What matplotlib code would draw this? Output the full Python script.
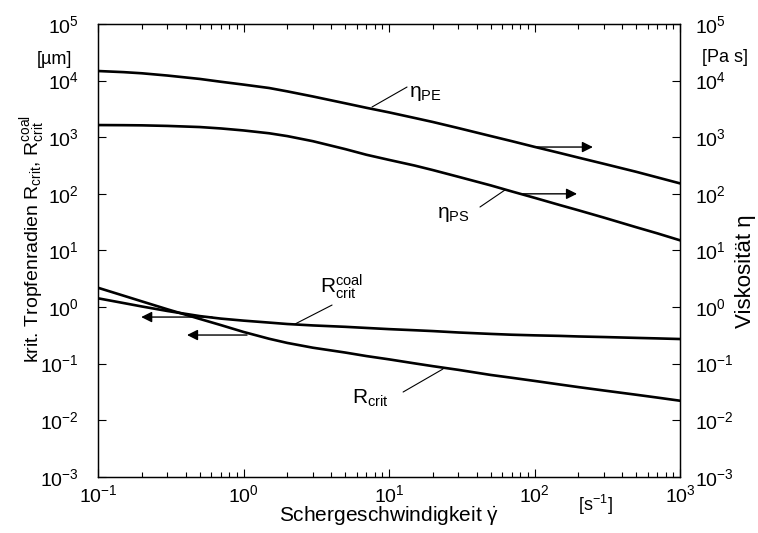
import numpy as np
import matplotlib
matplotlib.use("Agg")
import matplotlib.pyplot as plt

plt.rcParams["font.family"] = ["Liberation Sans", "DejaVu Sans"]
plt.rcParams["mathtext.fontset"] = "custom"
plt.rcParams["mathtext.rm"] = "Liberation Sans"
plt.rcParams["mathtext.it"] = "Liberation Sans"
plt.rcParams["mathtext.bf"] = "Liberation Sans:bold"
plt.rcParams["axes.unicode_minus"] = False

# shear rate [1/s]
shear = [0.1, 0.15, 0.2, 0.3, 0.5, 0.7, 1, 1.5, 2, 3, 5, 7, 10,
         15, 20, 30, 50, 70, 100, 150, 200, 300, 500, 700, 1000]

# viscosities [Pa s]
eta_pe = [14790, 14130, 13490, 12300, 10720, 9550, 8510, 7410, 6460, 5250, 3980, 3310, 2750,
          2190, 1860, 1450, 1050, 851, 676, 525, 437, 339, 245, 195, 153]
eta_ps = [1641, 1633, 1622, 1585, 1514, 1429, 1318, 1175, 1047, 851, 617, 490, 398,
          316, 263, 200, 141, 110, 85.1, 63.1, 51.3, 38.0, 25.7, 20.0, 15.1]

# critical drop radii [um]
r_crit = [2.19, 1.585, 1.259, 0.912, 0.617, 0.479, 0.363, 0.275, 0.232, 0.191, 0.157, 0.136, 0.119,
          0.101, 0.0902, 0.0776, 0.0631, 0.0562, 0.0495, 0.0427, 0.0385, 0.0335, 0.0282, 0.0251, 0.0221]
r_coal = [1.426, 1.175, 1.023, 0.851, 0.692, 0.624, 0.575, 0.531, 0.501, 0.473, 0.447, 0.427, 0.407,
          0.389, 0.376, 0.355, 0.335, 0.324, 0.316, 0.309, 0.302, 0.295, 0.285, 0.279, 0.272]

fig = plt.figure(figsize=(7.58, 5.33), dpi=100)
ax = fig.add_axes([0.1293, 0.1054, 0.7678, 0.8495])
ax2 = ax.twinx()

for a in (ax, ax2):
    a.set_xscale("log")
    a.set_yscale("log")
    a.set_xlim(0.1, 1000)
    a.set_ylim(1e-3, 1e5)
    a.yaxis.set_major_locator(matplotlib.ticker.LogLocator(base=10, numticks=20))
    a.yaxis.set_minor_locator(matplotlib.ticker.NullLocator())
    a.yaxis.set_minor_formatter(matplotlib.ticker.NullFormatter())
    a.xaxis.set_minor_formatter(matplotlib.ticker.NullFormatter())
ax2.tick_params(axis="x", which="both", bottom=False, top=False, labelbottom=False, labeltop=False)

lw = 1.9
ax.plot(shear, r_crit, color="black", lw=lw)
ax.plot(shear, r_coal, color="black", lw=lw)
ax2.plot(shear, eta_pe, color="black", lw=lw)
ax2.plot(shear, eta_ps, color="black", lw=lw)

ax.tick_params(which="both", direction="in", top=True, right=False, labelsize=14, width=0.8)
ax.tick_params(axis="y", which="major", length=6, pad=14)
ax.tick_params(axis="x", which="major", length=6, pad=5)
ax.tick_params(axis="x", which="minor", length=3.5)
ax2.tick_params(axis="y", which="major", direction="in", length=6, pad=11, labelsize=14, width=0.8)
for a in (ax, ax2):
    for s in a.spines.values():
        s.set_linewidth(0.9)

ax.set_xlabel(r"Schergeschwindigkeit $\dot{\gamma}$", fontsize=15, labelpad=-1)
ax.set_ylabel(r"krit. Tropfenradien R$_{\mathrm{crit}}$, R$_{\mathrm{crit}}^{\mathrm{coal}}$", fontsize=14)
ax.yaxis.set_label_coords(-0.087, 0.525)
ax2.set_ylabel(u"Viskosität η", fontsize=16)
ax2.yaxis.set_label_coords(1.094, 0.454)

ax.text(-0.0756, 0.9227, u"[µm]", transform=ax.transAxes, fontsize=13, ha="center", va="center")
ax.text(1.077, 0.927, "[Pa s]", transform=ax.transAxes, fontsize=13, ha="center", va="center")
ax.text(0.854, -0.063, r"[s$^{\mathrm{-1}}$]", transform=ax.transAxes, fontsize=13, ha="center", va="center")

# curve labels
ax2.text(13.7, 6040, r"η$_{\mathrm{PE}}$", fontsize=15, ha="left", va="center")
ax2.text(21.4, 44, r"η$_{\mathrm{PS}}$", fontsize=15, ha="left", va="center")
ax.text(3.36, 2.3, r"R$_{\mathrm{crit}}^{\mathrm{coal}}$", fontsize=15, ha="left", va="center")
ax.text(5.57, 0.0241, r"R$_{\mathrm{crit}}$", fontsize=15, ha="left", va="center")

# leader lines from label to curve
lead = dict(arrowstyle="-", lw=0.8, color="black", shrinkA=0, shrinkB=0)
ax2.annotate("", xy=(7.64, 3420), xytext=(13.3, 7710), arrowprops=lead)
ax2.annotate("", xy=(62.7, 117), xytext=(42.2, 58.5), arrowprops=lead)
ax.annotate("", xy=(2.26, 0.501), xytext=(4.06, 1.084), arrowprops=lead)
ax.annotate("", xy=(23.5, 0.0804), xytext=(12.5, 0.0315), arrowprops=lead)

# arrows pointing to the matching axis
head = dict(arrowstyle="-|>", lw=1.0, color="black", mutation_scale=16, shrinkA=0, shrinkB=0)
ax2.annotate("", xy=(252, 671), xytext=(104, 671), arrowprops=head)
ax2.annotate("", xy=(196, 100), xytext=(83, 100), arrowprops=head)
ax.annotate("", xy=(0.198, 0.665), xytext=(0.608, 0.665), arrowprops=head)
ax.annotate("", xy=(0.409, 0.32), xytext=(1.057, 0.32), arrowprops=head)

fig.savefig("out.png", dpi=100)
